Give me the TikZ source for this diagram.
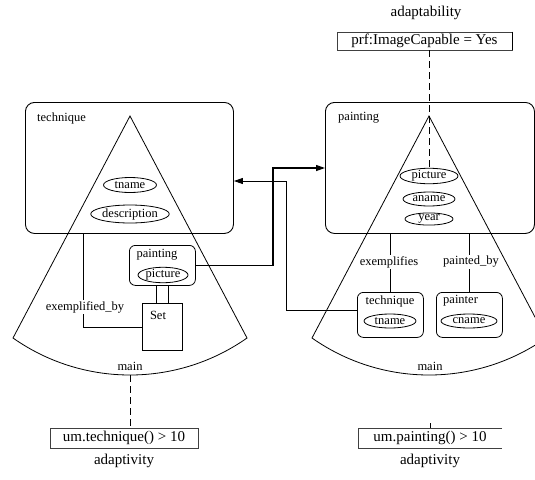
\documentclass[tikz,border=0pt]{standalone}
\usepackage{fontspec}
\setmainfont{Liberation Serif}
\usetikzlibrary{shapes.geometric,arrows.meta,calc}
\begin{document}
\begin{tikzpicture}[x=1pt,y=-1pt,
  lbl/.style={font=\fontsize{12.5}{14}\selectfont, inner sep=1pt},
  big/.style={font=\fontsize{15}{17}\selectfont, inner sep=1pt},
  attr/.style={draw, ellipse, inner sep=0pt, line width=0.8pt, font=\fontsize{12.5}{14}\selectfont},
  cls/.style={draw, rounded corners=6pt, line width=0.8pt, inner sep=0pt},
  bigbox/.style={draw, rounded corners=9pt, line width=0.9pt, inner sep=0pt, anchor=north west},
  cond/.style={big, draw=black!75, line width=0.6pt},
  sector/.style={line width=0.8pt},
  link/.style={line width=0.8pt},
  dsh/.style={dash pattern=on 7pt off 4pt, line width=0.6pt},
  arr/.style={-{Triangle[length=9pt,width=6pt]}, line width=1.2pt}]
\useasboundingbox (0,0) rectangle (535,479);

% ---------- left sector ----------
\coordinate (apex1) at (130,116);
\draw[sector] (apex1) -- (13,338) arc[start angle=125.1, end angle=54.9, radius=203.5] -- cycle;
\node[bigbox, minimum width=208, minimum height=131] (tbox) at (25,102) {};
\node[lbl, anchor=west] (tlab) at (36,118) {technique};
\node[attr, minimum width=53, minimum height=15] (tname) at (130,185) {tname};
\node[attr, minimum width=78, minimum height=18] (desc) at (130,214) {description};

\node[cls, minimum width=66, minimum height=40, anchor=north west] (pbox) at (129,245) {};
\node[lbl] (plab) at (157,255) {painting};
\node[attr, minimum width=50, minimum height=15] (ppic) at (163,275) {picture};
\node[draw, line width=0.8pt, minimum width=40, minimum height=47, anchor=north west, inner sep=0pt] (set) at (142,303) {};
\node[lbl] (setlab) at (158,315) {Set};
\draw[link] ($(pbox.south)+(-6,0)$) -- ($(set.north)+(-6,0)$);
\draw[link] ($(pbox.south)+(6,0)$) -- ($(set.north)+(6,0)$);
\coordinate (eb) at (83,233);
\draw[link] (eb) |- (set.west);
\node[lbl, fill=white] (eblab) at (85,307) {exemplified\_by};
\node[lbl] (main1) at (130,366) {main};

\node[cond, minimum width=148, minimum height=20] (ad1) at (124,438) {um.technique() > 10};
\node[big] (ad1lab) at (124,461) {adaptivity};
\coordinate (s1b) at (130,375);
\draw[dsh] (s1b) -- (s1b |- ad1.north);

% ---------- right sector ----------
\coordinate (apex2) at (429,116);
\draw[sector] (apex2) -- (312,338) arc[start angle=125.1, end angle=54.9, radius=203.5] -- cycle;
\node[bigbox, minimum width=209, minimum height=131] (pntbox) at (325,102) {};
\node[lbl, anchor=west] (pntlab) at (337,118) {painting};
\node[attr, minimum width=58, minimum height=15] (pic2) at (429,176) {picture};
\node[attr, minimum width=52, minimum height=14] (aname) at (429,199) {aname};
\node[attr, minimum width=48, minimum height=12] (year) at (429,219) {year};

\node[cls, minimum width=66, minimum height=45, anchor=north west] (tech2) at (357,292) {};
\node[lbl] (tech2lab) at (390,301) {technique};
\node[attr, minimum width=52, minimum height=14] (tname2) at (390,321) {tname};
\node[cls, minimum width=66, minimum height=45, anchor=north west] (painter) at (436,292) {};
\node[lbl, anchor=west] (painterlab) at (442,301) {painter};
\node[attr, minimum width=56, minimum height=14] (cname) at (469,321) {cname};

\draw[line width=1.2pt] (pntbox.south -| tech2.north) -- (tech2.north);
\draw[link] (pntbox.south -| painter.north) -- (painter.north);
\node[lbl, fill=white] (exlab) at (389,262) {exemplifies};
\node[lbl, fill=white] (pblab) at (471,262) {painted\_by};
\node[lbl] (main2) at (430,366) {main};

\node[big, minimum width=144, minimum height=20] (ad2) at (430,438) {um.painting() > 10};
\draw[draw=black!75, line width=0.6pt] (ad2.north east) -- (ad2.north west) -- (ad2.south west) -- (ad2.south east);
\draw[line width=0.6pt] (430,423) -- (ad2.north);
\node[big] (ad2lab) at (430,461) {adaptivity};

\node[cond, minimum width=175, minimum height=18] (adt) at (424.5,41) {prf:ImageCapable = Yes};
\draw[line width=1.2pt] (adt.north east) -- (adt.south east);
\node[big] (adtlab) at (426,13) {adaptability};
\draw[dsh] (adt.south -| apex2) -- (pic2.north);

% ---------- cross links ----------
\coordinate (c1) at (273,168);
\draw[arr] (pbox.east) -| (c1) -- (c1 -| pntbox.west);
\coordinate (c2) at (286,181);
\draw[arr, line width=0.9pt] ($(tech2.west)+(0,-4)$) -| (c2) -- (c2 -| tbox.east);
\end{tikzpicture}
\end{document}
